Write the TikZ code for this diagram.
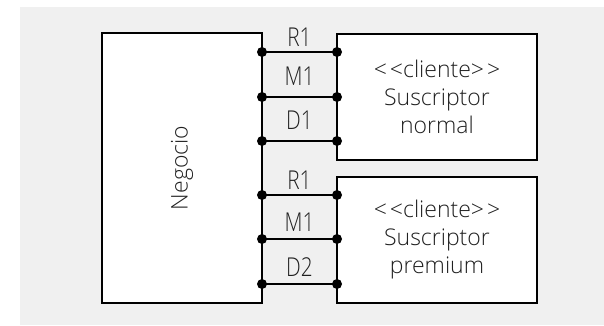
\documentclass[tikz,border=0pt]{standalone}
\usepackage{fontspec}
\setmainfont{Open Sans}[UprightFont=* Light]
\definecolor{panel}{HTML}{F0F0F0}
\definecolor{ink}{HTML}{202020}
\newcommand{\stereo}[1]{<\hspace{3pt}<#1>\hspace{3pt}>}
\begin{document}
\begin{tikzpicture}[x=1pt,y=-1pt,
  box/.style={draw=black,line width=2.7pt,fill=white,inner sep=0pt,font=\fontsize{23}{28}\selectfont,text=ink,align=center},
  pin/.style={circle,fill=black,inner sep=0pt,minimum size=10pt},
  wire/.style={line width=2.7pt},
  lbl/.style={font=\fontsize{26}{28}\selectfont,text=ink,inner sep=0pt,xscale=0.8},
  comptitle/.style={font=\fontsize{23}{28}\selectfont,text=ink,inner sep=0pt}]
\useasboundingbox (0,0) rectangle (604,325);
\fill[panel] (20,7) rectangle (604,325);

% Negocio component
\node[box,minimum width=160pt,minimum height=270pt] (neg) at (182,168) {};
\node[comptitle,rotate=90] (negtxt) at (neg.center) {Negocio};

% client components
\node[box,minimum width=200pt,minimum height=126pt] (c1) at (437,97) {\stereo{cliente}\\Suscriptor\\normal};
\node[box,minimum width=200pt,minimum height=126pt] (c2) at (437,240) {\stereo{cliente}\\Suscriptor\\premium};

% interface pins and the wires between them
\foreach \n/\y in {a1/52,a2/97,a3/141,b1/195,b2/239,b3/284}{
  \coordinate (l\n) at (262,\y);
  \coordinate (r\n) at (337,\y);
  \draw[wire] (l\n) -- (r\n);
  \node[pin] (pl\n) at (l\n) {};
  \node[pin] (pr\n) at (r\n) {};
}

% interface labels
\node[lbl] (ra) at (299.5,37) {R1};
\node[lbl] (ma) at (299.5,76) {M1};
\node[lbl] (da) at (299.5,120) {D1};
\node[lbl] (rb) at (299.5,180) {R1};
\node[lbl] (mb) at (299.5,222) {M1};
\node[lbl] (db) at (299.5,267) {D2};
\end{tikzpicture}
\end{document}
